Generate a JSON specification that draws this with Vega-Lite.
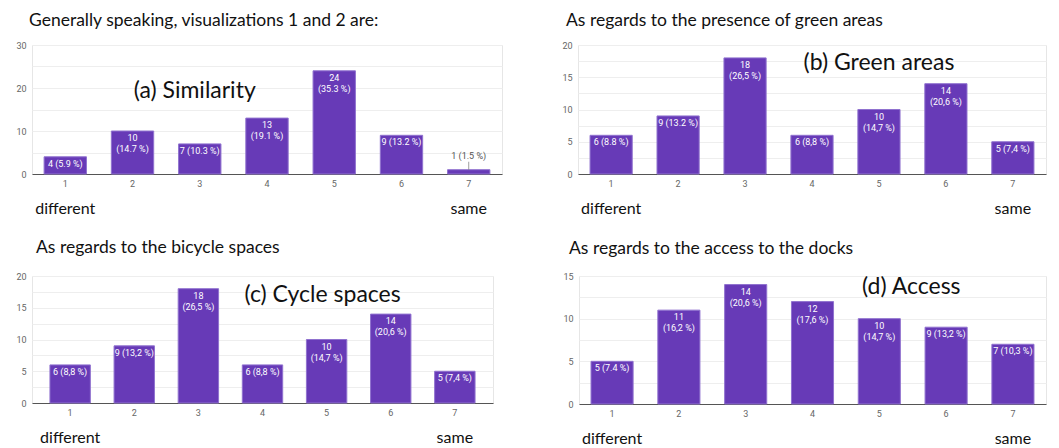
{
  "$schema": "https://vega.github.io/schema/vega-lite/v6.json",
  "background": "white",
  "padding": {"left": 5, "top": 11, "right": 0, "bottom": 0},
  "config": {
    "view": {"stroke": "#e6e6e6"},
    "title": {"font": "Lato", "fontSize": 17.5, "fontWeight": "normal", "color": "#111", "anchor": "start", "frame": "group", "baseline": "alphabetic"},
    "axisX": {"title": null, "labelAngle": 0, "ticks": false, "domainColor": "#555", "labelColor": "#666", "labelFont": "Roboto", "labelFontSize": 9, "labelPadding": 5, "grid": false},
    "axisY": {"title": null, "ticks": false, "domain": false, "gridColor": "#eeeeee", "labelColor": "#666", "labelFont": "Roboto", "labelFontSize": 9, "labelPadding": 6}
  },
  "datasets": {
    "ends": [{"opt": "1", "t": "different"}, {"opt": "7", "t": "same"}],
    "annA": [{"t": "(a) Similarity"}],
    "annB": [{"t": "(b) Green areas"}],
    "annC": [{"t": "(c) Cycle spaces"}],
    "annD": [{"t": "(d) Access"}]
  },
  "vconcat": [
    {
      "bounds": "flush",
      "spacing": 76,
      "hconcat": [
        {
          "width": 470, "height": 129,
          "title": {"text": "Generally speaking, visualizations 1 and 2 are:", "dx": -3, "offset": 12},
          "layer": [
            {
              "data": {"values": [
                {"opt": "1", "n": 4, "lab": "4 (5.9 %)"},
                {"opt": "2", "n": 10, "lab": "10\n(14.7 %)"},
                {"opt": "3", "n": 7, "lab": "7 (10.3 %)"},
                {"opt": "4", "n": 13, "lab": "13\n(19.1 %)"},
                {"opt": "5", "n": 24, "lab": "24\n(35.3 %)"},
                {"opt": "6", "n": 9, "lab": "9 (13.2 %)"},
                {"opt": "7", "n": 1, "lab": "1 (1.5 %)"}
              ]},
              "encoding": {
                "x": {"field": "opt", "type": "ordinal", "scale": {"paddingInner": 0.37, "paddingOuter": 0.18}, "axis": {"labelColor": "#666"}},
                "y": {"field": "n", "type": "quantitative", "scale": {"domain": [0, 30], "nice": false}, "axis": {"values": [0, 5, 10, 15, 20, 25, 30], "labelExpr": "datum.value % 10 === 0 ? datum.label : ''", "minExtent": 26}}
              },
              "layer": [
                {"mark": {"type": "bar", "color": "#673ab7", "stroke": "#9072cf", "strokeWidth": 1}},
                {"transform": [{"filter": "datum.n >= 2"}], "mark": {"type": "text", "color": "white", "font": "Roboto", "baseline": "top", "dy": 3, "fontSize": 9, "lineBreak": "\n", "lineHeight": 11}, "encoding": {"text": {"field": "lab", "type": "nominal"}}},
                {"transform": [{"filter": "datum.n < 2"}], "mark": {"type": "text", "color": "#555", "font": "Roboto", "baseline": "bottom", "dy": -9, "fontSize": 9}, "encoding": {"text": {"field": "lab", "type": "nominal"}}},
                {"transform": [{"filter": "datum.n < 2"}], "mark": {"type": "tick", "orient": "vertical", "size": 8, "thickness": 1, "color": "#777", "yOffset": -4}}
              ]
            },
            {"data": {"name": "annA"}, "mark": {"type": "text", "font": "Lato", "fontSize": 23, "fill": "#111", "xOffset": -5}, "encoding": {"x": {"datum": "3", "type": "ordinal", "axis": {"labelColor": "#666"}}, "y": {"datum": 19.3, "type": "quantitative", "scale": {"domain": [0, 30], "nice": false}, "axis": {"values": [0, 5, 10, 15, 20, 25, 30], "labelExpr": "datum.value % 10 === 0 ? datum.label : ''", "minExtent": 26}}, "text": {"field": "t", "type": "nominal"}}},
            {"data": {"name": "ends"}, "mark": {"type": "text", "font": "Lato", "fontSize": 16, "fill": "#111", "dy": 35}, "encoding": {"x": {"field": "opt", "type": "ordinal", "axis": {"labelColor": "#666"}}, "y": {"datum": 0, "type": "quantitative", "scale": {"domain": [0, 30], "nice": false}, "axis": {"values": [0, 5, 10, 15, 20, 25, 30], "labelExpr": "datum.value % 10 === 0 ? datum.label : ''", "minExtent": 26}}, "text": {"field": "t", "type": "nominal"}}}
          ]
        },
        {
          "width": 468, "height": 129,
          "title": {"text": "As regards to the presence of green areas", "dx": -12, "offset": 12},
          "layer": [
            {
              "data": {"values": [
                {"opt": "1", "n": 6, "lab": "6 (8.8 %)"},
                {"opt": "2", "n": 9, "lab": "9 (13.2 %)"},
                {"opt": "3", "n": 18, "lab": "18\n(26,5 %)"},
                {"opt": "4", "n": 6, "lab": "6 (8,8 %)"},
                {"opt": "5", "n": 10, "lab": "10\n(14,7 %)"},
                {"opt": "6", "n": 14, "lab": "14\n(20,6 %)"},
                {"opt": "7", "n": 5, "lab": "5 (7,4 %)"}
              ]},
              "encoding": {
                "x": {"field": "opt", "type": "ordinal", "scale": {"paddingInner": 0.37, "paddingOuter": 0.18}, "axis": {"labelColor": "#666"}},
                "y": {"field": "n", "type": "quantitative", "scale": {"domain": [0, 20], "nice": false}, "axis": {"values": [0, 2.5, 5, 7.5, 10, 12.5, 15, 17.5, 20], "labelExpr": "datum.value % 5 === 0 ? datum.label : ''", "minExtent": 19}}
              },
              "layer": [
                {"mark": {"type": "bar", "color": "#673ab7", "stroke": "#9072cf", "strokeWidth": 1}},
                {"mark": {"type": "text", "color": "white", "font": "Roboto", "baseline": "top", "dy": 3, "fontSize": 9, "lineBreak": "\n", "lineHeight": 11}, "encoding": {"text": {"field": "lab", "type": "nominal"}}}
              ]
            },
            {"data": {"name": "annB"}, "mark": {"type": "text", "font": "Lato", "fontSize": 23, "fill": "#111"}, "encoding": {"x": {"datum": "5", "type": "ordinal", "axis": {"labelColor": "#666"}}, "y": {"datum": 17.2, "type": "quantitative", "scale": {"domain": [0, 20], "nice": false}, "axis": {"values": [0, 2.5, 5, 7.5, 10, 12.5, 15, 17.5, 20], "labelExpr": "datum.value % 5 === 0 ? datum.label : ''", "minExtent": 19}}, "text": {"field": "t", "type": "nominal"}}},
            {"data": {"name": "ends"}, "mark": {"type": "text", "font": "Lato", "fontSize": 16, "fill": "#111", "dy": 35}, "encoding": {"x": {"field": "opt", "type": "ordinal", "axis": {"labelColor": "#666"}}, "y": {"datum": 0, "type": "quantitative", "scale": {"domain": [0, 20], "nice": false}, "axis": {"values": [0, 2.5, 5, 7.5, 10, 12.5, 15, 17.5, 20], "labelExpr": "datum.value % 5 === 0 ? datum.label : ''", "minExtent": 19}}, "text": {"field": "t", "type": "nominal"}}}
          ]
        }
      ]
    },
    {
      "bounds": "flush",
      "spacing": 86,
      "hconcat": [
        {
          "width": 461, "height": 127,
          "title": {"text": "As regards to the bicycle spaces", "dx": 4, "offset": 16},
          "layer": [
            {
              "data": {"values": [
                {"opt": "1", "n": 6, "lab": "6 (8,8 %)"},
                {"opt": "2", "n": 9, "lab": "9 (13,2 %)"},
                {"opt": "3", "n": 18, "lab": "18\n(26,5 %)"},
                {"opt": "4", "n": 6, "lab": "6 (8,8 %)"},
                {"opt": "5", "n": 10, "lab": "10\n(14,7 %)"},
                {"opt": "6", "n": 14, "lab": "14\n(20,6 %)"},
                {"opt": "7", "n": 5, "lab": "5 (7,4 %)"}
              ]},
              "encoding": {
                "x": {"field": "opt", "type": "ordinal", "scale": {"paddingInner": 0.37, "paddingOuter": 0.28}, "axis": {"labelColor": "#666"}},
                "y": {"field": "n", "type": "quantitative", "scale": {"domain": [0, 20], "nice": false}, "axis": {"values": [0, 2.5, 5, 7.5, 10, 12.5, 15, 17.5, 20], "labelExpr": "datum.value % 5 === 0 ? datum.label : ''", "minExtent": 26}}
              },
              "layer": [
                {"mark": {"type": "bar", "color": "#673ab7", "stroke": "#9072cf", "strokeWidth": 1}},
                {"mark": {"type": "text", "color": "white", "font": "Roboto", "baseline": "top", "dy": 3, "fontSize": 9, "lineBreak": "\n", "lineHeight": 11}, "encoding": {"text": {"field": "lab", "type": "nominal"}}}
              ]
            },
            {"data": {"name": "annC"}, "mark": {"type": "text", "font": "Lato", "fontSize": 23, "fill": "#111", "xOffset": -4}, "encoding": {"x": {"datum": "5", "type": "ordinal", "axis": {"labelColor": "#666"}}, "y": {"datum": 17, "type": "quantitative", "scale": {"domain": [0, 20], "nice": false}, "axis": {"values": [0, 2.5, 5, 7.5, 10, 12.5, 15, 17.5, 20], "labelExpr": "datum.value % 5 === 0 ? datum.label : ''", "minExtent": 26}}, "text": {"field": "t", "type": "nominal"}}},
            {"data": {"name": "ends"}, "mark": {"type": "text", "font": "Lato", "fontSize": 16, "fill": "#111", "dy": 35}, "encoding": {"x": {"field": "opt", "type": "ordinal", "axis": {"labelColor": "#666"}}, "y": {"datum": 0, "type": "quantitative", "scale": {"domain": [0, 20], "nice": false}, "axis": {"values": [0, 2.5, 5, 7.5, 10, 12.5, 15, 17.5, 20], "labelExpr": "datum.value % 5 === 0 ? datum.label : ''", "minExtent": 26}}, "text": {"field": "t", "type": "nominal"}}}
          ]
        },
        {
          "width": 467, "height": 128,
          "title": {"text": "As regards to the access to the docks", "dx": -10, "offset": 15},
          "layer": [
            {
              "data": {"values": [
                {"opt": "1", "n": 5, "lab": "5 (7.4 %)"},
                {"opt": "2", "n": 11, "lab": "11\n(16,2 %)"},
                {"opt": "3", "n": 14, "lab": "14\n(20,6 %)"},
                {"opt": "4", "n": 12, "lab": "12\n(17,6 %)"},
                {"opt": "5", "n": 10, "lab": "10\n(14,7 %)"},
                {"opt": "6", "n": 9, "lab": "9 (13,2 %)"},
                {"opt": "7", "n": 7, "lab": "7 (10,3 %)"}
              ]},
              "encoding": {
                "x": {"field": "opt", "type": "ordinal", "scale": {"paddingInner": 0.37, "paddingOuter": 0.18}, "axis": {"labelColor": "#666"}},
                "y": {"field": "n", "type": "quantitative", "scale": {"domain": [0, 15], "nice": false}, "axis": {"values": [0, 2.5, 5, 7.5, 10, 12.5, 15], "labelExpr": "datum.value % 5 === 0 ? datum.label : ''", "minExtent": 19}}
              },
              "layer": [
                {"mark": {"type": "bar", "color": "#673ab7", "stroke": "#9072cf", "strokeWidth": 1}},
                {"mark": {"type": "text", "color": "white", "font": "Roboto", "baseline": "top", "dy": 3, "fontSize": 9, "lineBreak": "\n", "lineHeight": 11}, "encoding": {"text": {"field": "lab", "type": "nominal"}}}
              ]
            },
            {"data": {"name": "annD"}, "mark": {"type": "text", "font": "Lato", "fontSize": 23, "fill": "#111", "xOffset": 32}, "encoding": {"x": {"datum": "5", "type": "ordinal", "axis": {"labelColor": "#666"}}, "y": {"datum": 13.7, "type": "quantitative", "scale": {"domain": [0, 15], "nice": false}, "axis": {"values": [0, 2.5, 5, 7.5, 10, 12.5, 15], "labelExpr": "datum.value % 5 === 0 ? datum.label : ''", "minExtent": 19}}, "text": {"field": "t", "type": "nominal"}}},
            {"data": {"name": "ends"}, "mark": {"type": "text", "font": "Lato", "fontSize": 16, "fill": "#111", "dy": 35}, "encoding": {"x": {"field": "opt", "type": "ordinal", "axis": {"labelColor": "#666"}}, "y": {"datum": 0, "type": "quantitative", "scale": {"domain": [0, 15], "nice": false}, "axis": {"values": [0, 2.5, 5, 7.5, 10, 12.5, 15], "labelExpr": "datum.value % 5 === 0 ? datum.label : ''", "minExtent": 19}}, "text": {"field": "t", "type": "nominal"}}}
          ]
        }
      ]
    }
  ],
  "spacing": 20
}
